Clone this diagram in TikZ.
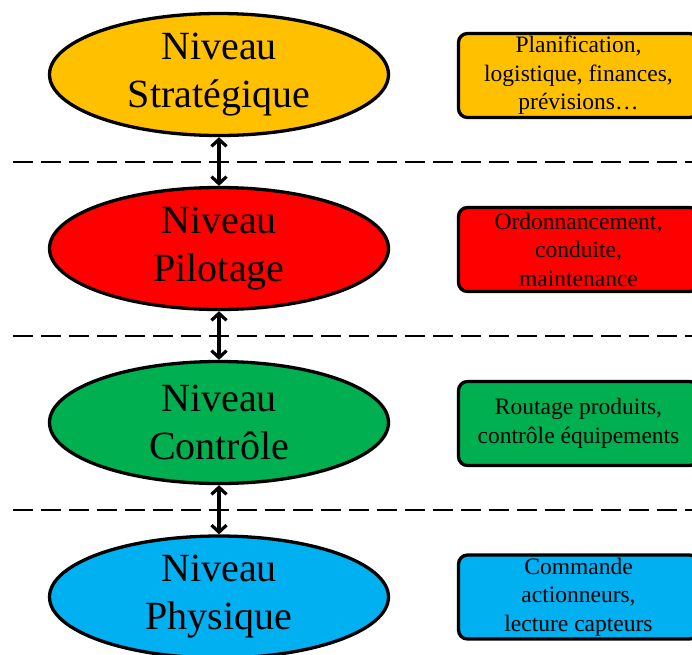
\documentclass[tikz,border=0pt]{standalone}
\usepackage{fontspec}
\setmainfont{Liberation Serif}
\usetikzlibrary{shapes.geometric,arrows.meta}
\definecolor{cyel}{HTML}{FFC000}
\definecolor{cred}{HTML}{FF0000}
\definecolor{cgrn}{HTML}{00B050}
\definecolor{cblu}{HTML}{00B0F0}
\begin{document}
\begin{tikzpicture}[x=1pt,y=-1pt,
  level/.style={ellipse,draw=black,line width=3.3pt,minimum width=339pt,minimum height=122pt,inner sep=0pt,
    align=center,font=\fontsize{40}{48}\selectfont},
  infobox/.style={rectangle,rounded corners=9pt,draw=black,line width=3.3pt,minimum width=240pt,minimum height=84pt,
    inner sep=0pt,align=center,font=\fontsize{23.5}{28.5}\selectfont},
  sep/.style={line width=2.3pt,dash pattern=on 20pt off 8pt},
  link/.style={line width=3.2pt,{Straight Barb[length=7pt,width=15pt]}-{Straight Barb[length=7pt,width=15pt]}}]
\useasboundingbox (0,0) rectangle (692,654);
\clip (0,0) rectangle (692,654);
\node[level,fill=cyel] (e1) at (219,74.5) {Niveau\\Stratégique};
\node[level,fill=cred] (e2) at (219,248.5) {Niveau\\Pilotage};
\node[level,fill=cgrn] (e3) at (219,422.5) {Niveau\\Contrôle};
\node[level,fill=cblu] (e4) at (219,597) {Niveau\\Physique};
\node[infobox,fill=cyel] (b1) at (578.5,75.5) {Planification,\\logistique, finances,\\prévisions…};
\node[infobox,fill=cred] (b2) at (578.5,249.5) {Ordonnancement,\\conduite,\\maintenance};
\node[infobox,fill=cgrn] (b3) at (578.5,423.5) {Routage produits,\\contrôle équipements};
\node[infobox,fill=cblu] (b4) at (578.5,597) {Commande\\actionneurs,\\lecture capteurs};
\coordinate (s1a) at (13,162); \coordinate (s1b) at (700,162);
\coordinate (s2a) at (13,336); \coordinate (s2b) at (700,336);
\coordinate (s3a) at (13,510); \coordinate (s3b) at (700,510);
\draw[sep] (s1a) -- (s1b);
\draw[sep] (s2a) -- (s2b);
\draw[sep] (s3a) -- (s3b);
\draw[link] (e1.south) -- (e2.north);
\draw[link] (e2.south) -- (e3.north);
\draw[link] (e3.south) -- (e4.north);
\end{tikzpicture}
\end{document}
